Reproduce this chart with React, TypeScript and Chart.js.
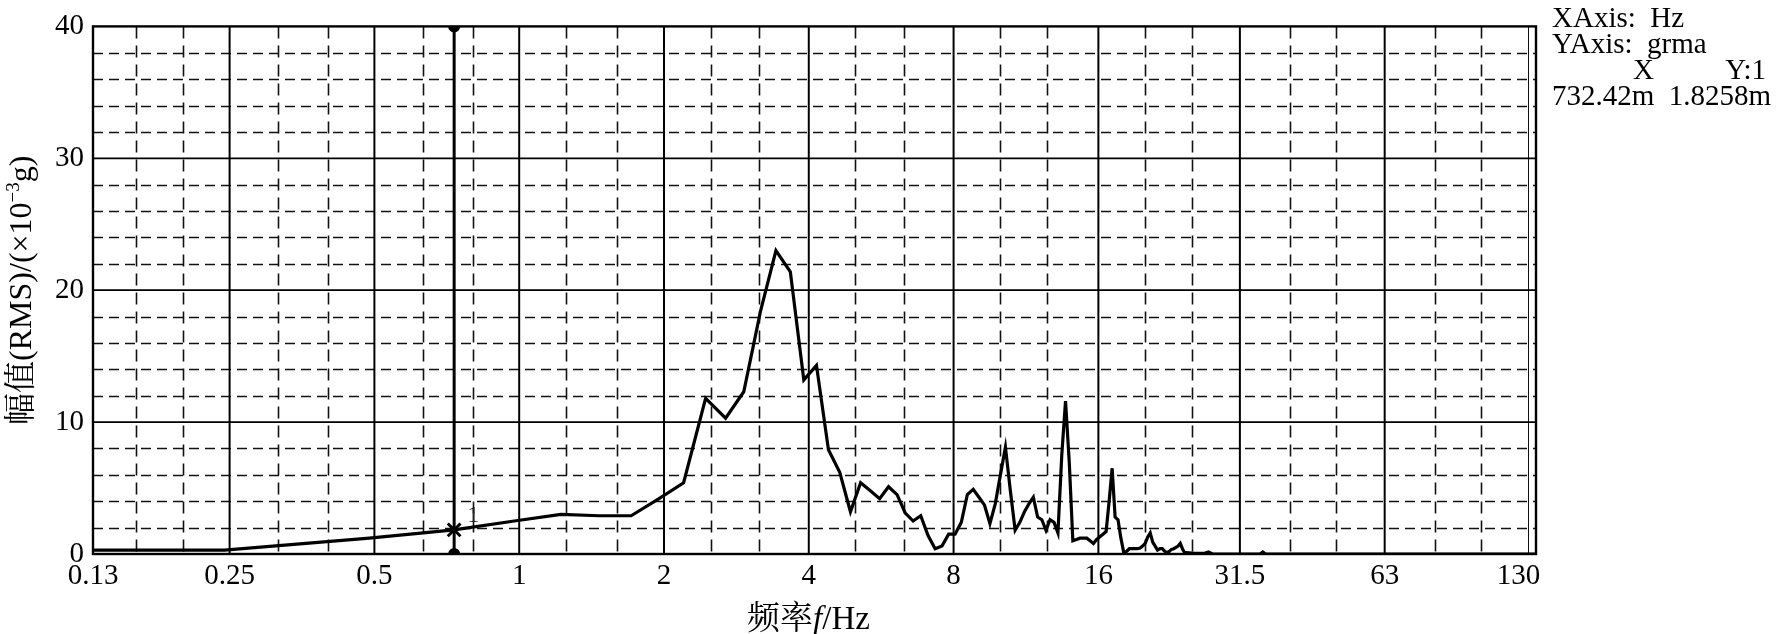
import React, { useEffect, useRef } from "react";
import { Chart, registerables } from "chart.js";

Chart.register(...registerables);

// ---------------- data ----------------
const freqHz = [
  0.13, 0.244, 0.488, 0.732, 0.977, 1.221, 1.465, 1.709, 1.953, 2.197,
  2.441, 2.686, 2.93, 3.174, 3.418, 3.662, 3.906, 4.15, 4.395, 4.639,
  4.883, 5.127, 5.371, 5.615, 5.859, 6.104, 6.348, 6.592, 6.836, 7.08,
  7.324, 7.568, 7.813, 8.057, 8.301, 8.545, 8.789, 9.033, 9.277, 9.521,
  9.766, 10.01, 10.254, 10.498, 10.742, 10.986, 11.23, 11.475, 11.719, 11.963,
  12.207, 12.451, 12.695, 12.939, 13.184, 13.428, 13.672, 13.916, 14.16, 14.404,
  14.648, 14.893, 15.137, 15.381, 15.625, 15.869, 16.113, 16.357, 16.602, 16.846,
  17.09, 17.334, 17.578, 17.822, 18.066, 18.311, 18.555, 18.799, 19.043, 19.287,
  19.531, 19.775, 20.02, 20.264, 20.508, 20.752, 20.996, 21.24, 21.484, 21.729,
  21.973, 22.217, 22.461, 22.705, 22.949, 23.193, 23.438, 23.682, 23.926, 24.17,
  24.414, 25.391, 26.611, 27.1, 27.588, 34.668, 35.156, 35.645, 130,
];
const amplitude = [
  0.3, 0.3, 1.2, 1.83, 2.5, 3.0, 2.9, 2.9, 4.2, 5.4,
  11.8, 10.3, 12.3, 18.4, 23.0, 21.4, 13.2, 14.3, 7.9, 6.2,
  3.2, 5.4, 4.8, 4.2, 5.1, 4.5, 3.1, 2.5, 2.9, 1.4,
  0.4, 0.6, 1.5, 1.5, 2.4, 4.5, 4.9, 4.3, 3.7, 2.3,
  3.8, 6.0, 8.1, 4.8, 1.8, 2.4, 3.2, 3.8, 4.3, 2.8,
  2.6, 1.8, 2.6, 2.4, 1.6, 7.5, 11.6, 7.0, 1.0, 1.1,
  1.2, 1.2, 1.2, 1.0, 0.8, 1.1, 1.3, 1.5, 1.7, 4.0,
  6.5, 2.8, 2.6, 1.2, 0.1, 0.2, 0.4, 0.4, 0.4, 0.4,
  0.45, 0.6, 0.8, 1.3, 1.6, 0.9, 0.6, 0.3, 0.4, 0.4,
  0.2, 0.1, 0.2, 0.35, 0.4, 0.5, 0.6, 0.8, 0.4, 0.1,
  0.1, 0.05, 0.05, 0.15, 0.02, 0.0, 0.15, 0.0, 0.0,
];

const cursorFreq = 0.73242;
const cursorValue = 1.8258;

const xTickValues = [0.13, 0.25, 0.5, 1, 2, 4, 8, 16, 31.5, 63, 130];
const xTickLabels = ["0.13", "0.25", "0.5", "1", "2", "4", "8", "16", "31.5", "63", "130\u2003\u2009"];
const yTickValues = [0, 10, 20, 30, 40];

const xMajorGrid = [0.25, 0.5, 1, 2, 4, 8, 16, 31.5, 63];
const xMinorGrid = [0.16, 0.2, 0.315, 0.4, 0.63, 0.8, 1.25, 1.6, 2.5, 3.15, 5, 6.3, 10, 12.5, 20, 25, 40, 50, 80, 100];
const xThinGrid = [125];
const yMajorGrid = [10, 20, 30];
const yMinorGrid = [2, 4, 6, 8, 12, 14, 16, 18, 22, 24, 26, 28, 32, 34, 36, 38];

const SERIF = '"Liberation Serif", "Times New Roman", serif';
const CJK = '"Noto Serif CJK SC", "Noto Sans CJK SC", sans-serif';

type Run = { text: string; font: string; dy?: number };

function drawRuns(ctx: CanvasRenderingContext2D, runs: Run[], cx: number, baseline: number) {
  const widths = runs.map((r) => {
    ctx.font = r.font;
    return ctx.measureText(r.text).width;
  });
  const total = widths.reduce((a, b) => a + b, 0);
  let x = cx - total / 2;
  runs.forEach((r, i) => {
    ctx.font = r.font;
    ctx.fillText(r.text, x, baseline + (r.dy || 0));
    x += widths[i];
  });
}

const decorPlugin = {
  id: "decor",
  beforeDatasetsDraw(chart: any) {
    const { ctx, chartArea: a, scales } = chart;
    const x = scales.x;
    const y = scales.y;
    ctx.save();
    ctx.beginPath();
    ctx.rect(a.left, a.top, a.right - a.left, a.bottom - a.top);
    ctx.clip();
    ctx.strokeStyle = "#111";
    // minor horizontal dashed
    ctx.lineWidth = 1.6;
    ctx.setLineDash([10, 6]);
    ctx.beginPath();
    yMinorGrid.forEach((v) => {
      const p = Math.round(y.getPixelForValue(v)) + 0.5;
      ctx.moveTo(a.left, p);
      ctx.lineTo(a.right, p);
    });
    ctx.stroke();
    // minor vertical dashed
    ctx.setLineDash([12, 7]);
    ctx.beginPath();
    xMinorGrid.forEach((v) => {
      const p = Math.round(x.getPixelForValue(v)) + 0.5;
      ctx.moveTo(p, a.top);
      ctx.lineTo(p, a.bottom);
    });
    ctx.stroke();
    ctx.setLineDash([]);
    // thin solid
    ctx.lineWidth = 1;
    ctx.beginPath();
    xThinGrid.forEach((v) => {
      const p = Math.round(x.getPixelForValue(v)) + 0.5;
      ctx.moveTo(p, a.top);
      ctx.lineTo(p, a.bottom);
    });
    ctx.stroke();
    // major
    ctx.strokeStyle = "#000";
    ctx.lineWidth = 1.7;
    ctx.beginPath();
    yMajorGrid.forEach((v) => {
      const p = y.getPixelForValue(v);
      ctx.moveTo(a.left, p);
      ctx.lineTo(a.right, p);
    });
    ctx.stroke();
    ctx.lineWidth = 2;
    ctx.beginPath();
    xMajorGrid.forEach((v) => {
      const p = x.getPixelForValue(v);
      ctx.moveTo(p, a.top);
      ctx.lineTo(p, a.bottom);
    });
    ctx.stroke();
    ctx.restore();
  },
  afterDatasetsDraw(chart: any) {
    const { ctx, chartArea: a, scales } = chart;
    ctx.save();
    ctx.strokeStyle = "#000";
    ctx.lineWidth = 2.4;
    ctx.strokeRect(a.left, a.top, a.right - a.left, a.bottom - a.top);
    // cursor label "1"
    const px = scales.x.getPixelForValue(cursorFreq);
    const py = scales.y.getPixelForValue(cursorValue);
    ctx.fillStyle = "#222";
    ctx.font = `24px ${SERIF}`;
    ctx.textBaseline = "alphabetic";
    ctx.textAlign = "left";
    ctx.fillText("1", px + 13, py - 8);
    ctx.restore();
  },
  afterDraw(chart: any) {
    const { ctx, chartArea: a } = chart;
    ctx.save();
    ctx.fillStyle = "#000";
    ctx.textBaseline = "alphabetic";
    ctx.textAlign = "left";
    // x-axis title
    const cx = (a.left + a.right) / 2;
    drawRuns(
      ctx,
      [
        { text: "频率", font: `33px ${CJK}` },
        { text: "f", font: `italic 33px ${SERIF}` },
        { text: "/Hz", font: `33px ${SERIF}` },
      ],
      cx - 6,
      629
    );
    // y-axis title (rotated)
    ctx.save();
    ctx.translate(20, (a.top + a.bottom) / 2);
    ctx.rotate(-Math.PI / 2);
    drawRuns(
      ctx,
      [
        { text: "幅值", font: `32px ${CJK}` },
        { text: "(RMS)/(×10", font: `32px ${SERIF}` },
        { text: "−3", font: `19px ${SERIF}`, dy: -12 },
        { text: "g)", font: `32px ${SERIF}` },
      ],
      0,
      11
    );
    ctx.restore();
    // side info text
    ctx.font = `29px ${SERIF}`;
    ctx.textAlign = "left";
    ctx.fillText("XAxis:  Hz", 1552, 27);
    ctx.fillText("YAxis:  grma", 1552, 53);
    ctx.fillText("X", 1633, 79);
    ctx.fillText("732.42m  1.8258m", 1552, 105);
    ctx.textAlign = "right";
    ctx.fillText("Y:1", 1766, 79);
    ctx.restore();
  },
};

export default function App() {
  const ref = useRef<HTMLCanvasElement>(null);

  useEffect(() => {
    if (!ref.current) return;
    const chart = new Chart(ref.current, {
      type: "line",
      data: {
        datasets: [
          {
            data: freqHz.map((f, i) => ({ x: f, y: amplitude[i] })),
            borderColor: "#000",
            borderWidth: 3.2,
            pointRadius: 0,
            tension: 0,
            fill: false,
          },
          {
            data: [
              { x: cursorFreq, y: 0 },
              { x: cursorFreq, y: 40 },
            ],
            borderColor: "#000",
            borderWidth: 3,
            pointRadius: 4.5,
            pointBackgroundColor: "#000",
            pointBorderColor: "#000",
            clip: 0,
          },
          {
            data: [{ x: cursorFreq, y: cursorValue }],
            showLine: false,
            pointStyle: "crossRot",
            pointRadius: 9,
            pointBorderWidth: 3,
            borderColor: "#000",
            pointBorderColor: "#000",
          },
        ],
      },
      options: {
        animation: false,
        responsive: false,
        devicePixelRatio: 1,
        parsing: false,
        normalized: true,
        layout: { padding: { left: 0, top: 11, right: 256, bottom: 0 } },
        plugins: { legend: { display: false }, tooltip: { enabled: false } },
        scales: {
          x: {
            type: "logarithmic",
            min: 0.13,
            max: 130,
            bounds: "data",
            grid: { display: false, drawTicks: false },
            border: { display: false },
            afterBuildTicks: (s: any) => {
              s.ticks = xTickValues.map((v) => ({ value: v }));
            },
            afterFit: (s: any) => {
              s.height = 80;
            },
            ticks: {
              autoSkip: false,
              maxRotation: 0,
              minRotation: 0,
              padding: 5,
              color: "#000",
              font: { family: SERIF, size: 29 },
              callback: (_v: any, i: number) => xTickLabels[i],
            },
          },
          y: {
            type: "linear",
            min: 0,
            max: 40,
            grid: { display: false, drawTicks: false },
            border: { display: false },
            afterBuildTicks: (s: any) => {
              s.ticks = yTickValues.map((v) => ({ value: v }));
            },
            afterFit: (s: any) => {
              s.width = 93;
            },
            ticks: {
              padding: 9,
              color: "#000",
              font: { family: SERIF, size: 29 },
              callback: (v: any) => String(v),
            },
          },
        },
      },
      plugins: [decorPlugin],
    } as any);
    return () => chart.destroy();
  }, []);

  return (
    <div style={{ position: "absolute", left: 0, top: 0, width: 1792, height: 634, background: "#fff" }}>
      <canvas ref={ref} width={1792} height={634} style={{ display: "block", width: 1792, height: 634 }} />
    </div>
  );
}
